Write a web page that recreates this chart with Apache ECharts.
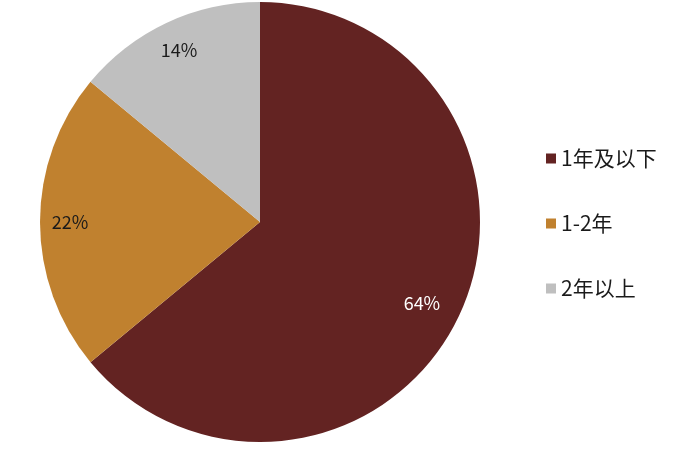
<!DOCTYPE html>
<html>
<head>
<meta charset="utf-8">
<script src="https://cdn.jsdelivr.net/npm/echarts@6/dist/echarts.min.js"></script>
<style>
    html, body { margin: 0; padding: 0; background: #fff; }
    #chart { width: 700px; height: 453px; }
</style>
</head>
<body>
<div id="chart"></div>
<script>
    // 期限分布
    var categories = ["1年及以下", "1-2年", "2年以上"];
    var values = [64, 22, 14];
    var colors = ["#632322", "#C0812F", "#BFBFBF"];

    var pieData = categories.map(function (name, i) {
        return { name: name, value: values[i], itemStyle: { color: colors[i] } };
    });

    var chart = echarts.init(document.getElementById("chart"));
    chart.setOption({
        animation: false,
        legend: {
            data: categories,
            orient: "vertical",
            left: 541,
            top: 143,
            icon: "rect",
            itemWidth: 10,
            itemHeight: 10,
            itemGap: 44,
            textStyle: {
                fontSize: 21,
                color: "#1a1a1a",
                fontFamily: "Noto Sans CJK SC"
            }
        },
        series: [
            {
                type: "pie",
                center: [260, 222],
                radius: 220,
                startAngle: 90,
                clockwise: true,
                silent: true,
                label: { show: false },
                labelLine: { show: false },
                itemStyle: { borderWidth: 0 },
                data: pieData
            },
            {
                // 标签层：透明环，用于放置靠外侧的百分比标签
                type: "pie",
                center: [260, 222],
                radius: [150, 224],
                startAngle: 90,
                clockwise: true,
                silent: true,
                itemStyle: { color: "transparent", borderWidth: 0 },
                label: {
                    show: true,
                    position: "inside",
                    formatter: "{c}%",
                    fontSize: 18,
                    fontFamily: "Noto Sans CJK SC",
                    color: "#1a1a1a",
                    padding: [4, 0, 0, 0]
                },
                labelLine: { show: false },
                data: values.map(function (v, i) {
                    return {
                        name: categories[i],
                        value: v,
                        label: i === 0 ? { color: "#ffffff", padding: [10, 20, 0, 0] } : {}
                    };
                })
            }
        ]
    });
</script>
</body>
</html>
